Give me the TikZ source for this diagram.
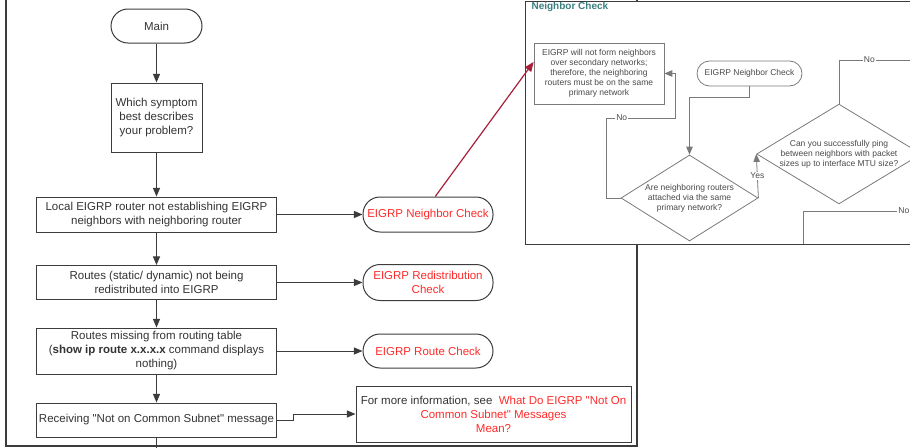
\documentclass[tikz,border=0pt]{standalone}
\usepackage{fontspec}
\setmainfont{Liberation Sans}
\usepackage{tikz}
\usetikzlibrary{arrows}
\usetikzlibrary{shapes}

\definecolor{boxline}{HTML}{3C3C3C}
\definecolor{txt}{HTML}{333333}
\definecolor{linkred}{HTML}{FF2A2A}
\definecolor{darkred}{HTML}{A8203A}
\definecolor{insetgray}{HTML}{7A7A7A}
\definecolor{insettxt}{HTML}{4A4A4A}
\definecolor{titleteal}{HTML}{3A8080}

\begin{document}
\begin{tikzpicture}[x=1pt, y=-1pt, >=triangle 45,
                   every node/.style={font=\fontsize{11.5}{14}\selectfont, text=txt, align=center},
                   proc/.style={draw=boxline, line width=1pt, minimum width=240pt, inner sep=2pt},
                   term/.style={draw=boxline, line width=1pt, rounded corners=17pt, minimum width=130pt},
                   flow/.style={->, draw=boxline, line width=1pt},
                   small/.style={font=\fontsize{8.5}{10}\selectfont, text=insettxt},
                   smallbox/.style={small, draw=insetgray, line width=0.8pt},
                   insetline/.style={draw=insetgray, line width=0.8pt},
                   insetflow/.style={->, insetline},
                   nolabel/.style={small, fill=white, inner sep=1pt}]
\clip (0,0) rectangle (910,447);
\draw[boxline, line width=1.2pt] (6,-2) -- (6,446) -- (637,446) -- (637,-2);

\node[term, minimum width=91pt, minimum height=34pt] (main) at (156.5,26) {Main};
\node[proc, minimum width=91pt, minimum height=69pt] (which) at (156.5,117.5) {Which symptom\\best describes\\your problem?};
\node[proc, minimum height=35pt] (local) at (156.5,214.5) {Local EIGRP router not establishing EIGRP\\neighbors with neighboring router};
\node[proc, minimum height=34pt] (redist) at (156.5,282.5) {Routes (static/ dynamic) not being\\redistributed into EIGRP};
\node[proc, minimum height=46pt] (missing) at (156.5,351) {Routes missing from routing table\\(\textbf{show ip route x.x.x.x} command displays\\nothing)};
\node[proc, minimum height=34pt] (receiving) at (156.5,420) {Receiving \textquotedbl Not on Common Subnet\textquotedbl\ message};

\node[term, minimum height=35pt, text=linkred] (nbr) at (428,214.5) {EIGRP Neighbor Check};
\node[term, minimum height=36pt, text=linkred] (redchk) at (428,282.5) {EIGRP Redistribution\\Check};
\node[term, minimum height=34pt, text=linkred] (routechk) at (428,351) {EIGRP Route Check};
\node[proc, minimum width=275pt, minimum height=56pt] (info) at (493.5,414) {For more information, see \ \textcolor{linkred}{What Do EIGRP \textquotedbl Not On}\\\textcolor{linkred}{Common Subnet\textquotedbl\ Messages}\\\textcolor{linkred}{Mean?}};

\draw[flow] (main) -- (which);
\draw[flow] (which) -- (local);
\draw[flow] (local) -- (redist);
\draw[flow] (redist) -- (missing);
\draw[flow] (missing) -- (receiving);
\draw[boxline, line width=1pt] (receiving.south) -- ++(0,12);
\draw[flow] (local) -- (nbr);
\draw[flow] (redist) -- (redchk);
\draw[flow] (missing) -- (routechk);
\draw[flow] (receiving.east) -- ++(16,0) |- (info.west);

\fill[white] (525,1) rectangle (915,244);
\draw[boxline, line width=1pt] (915,1) -- (525,1) -- (525,244) -- (915,244);
\node[font=\fontsize{10}{12}\selectfont\bfseries, text=titleteal, anchor=west] (title) at (528,7) {Neighbor Check};

\node[smallbox, minimum width=130pt, minimum height=61pt] (ncwarn) at (599,73.5) {EIGRP will not form neighbors\\over secondary networks;\\therefore, the neighboring\\routers must be on the same\\primary network};
\node[smallbox, rounded corners=12.5pt, minimum width=105pt, minimum height=25pt] (ncstart) at (749.5,73.5) {EIGRP Neighbor Check};
\node[smallbox, diamond, aspect=1.6, inner sep=0pt, minimum width=137pt, minimum height=86pt] (ncq1) at (689.5,198) {Are neighboring routers\\attached via the same\\primary network?};
\node[smallbox, diamond, aspect=1.65, inner sep=0pt, minimum width=162pt, minimum height=98pt] (ncq2) at (839,154) {Can you successfully ping\\between neighbors with packet\\sizes up to interface MTU size?};
\coordinate (noend1) at (915,60);
\coordinate (nobase) at (803,244);
\coordinate (noend2) at (915,211);

\draw[insetflow] (ncstart.south) -- ++(0,11) -| (ncq1.north);
\draw[insetflow] (ncq1.west) -- ++(-14,0) |- node[nolabel, pos=0.61] {No} ++(69,-80) |- (ncwarn.east);
\draw[insetflow] (ncq1.east) -- node[nolabel] {Yes} (ncq2.west);
\draw[insetline] (ncq2.north) |- node[nolabel, pos=0.7] {No} (noend1);
\draw[insetline] (nobase) |- node[nolabel, pos=0.95] {No} (noend2);

\draw[->, darkred, line width=1.2pt] (nbr.68) -- (ncwarn.170);
\end{tikzpicture}
\end{document}
